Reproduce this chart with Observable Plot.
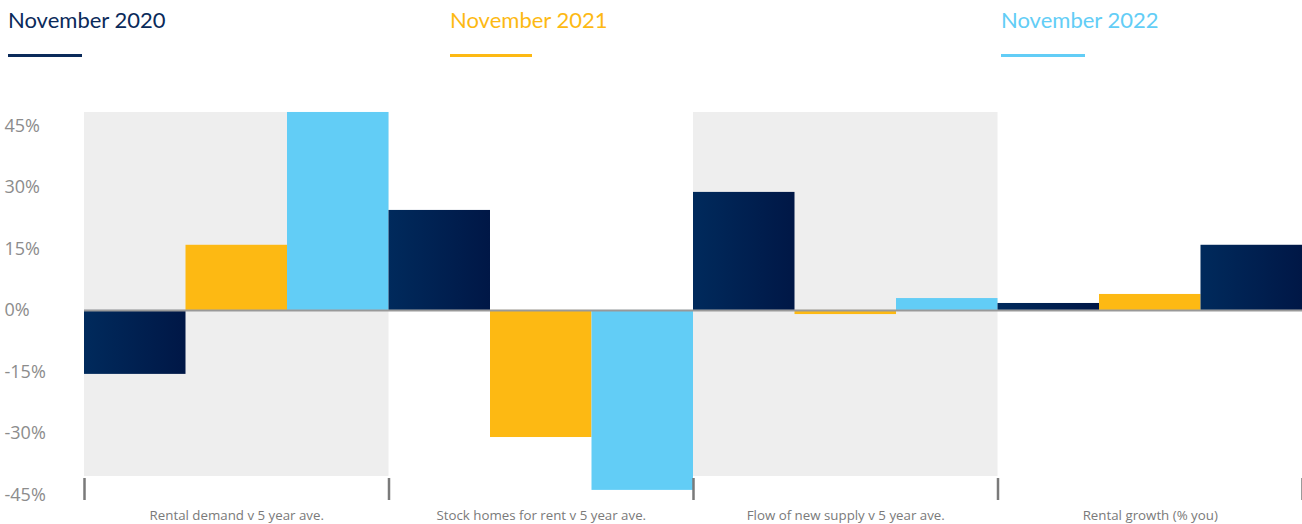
<!DOCTYPE html>
<html>
<head>
<meta charset="utf-8">
<script src="https://cdn.jsdelivr.net/npm/d3@7"></script>
<script src="https://cdn.jsdelivr.net/npm/@observablehq/plot@0.6"></script>
<style>
  html, body { margin: 0; padding: 0; background: #fff; }
  #wrap { width: 1302px; height: 524px; position: relative; overflow: hidden; }
  #legend { position: relative; width: 1302px; height: 100px; font-family: Lato, "Open Sans", sans-serif; }
  .item { position: absolute; top: 6px; font-size: 22px; white-space: nowrap; }
  .item .sw { position: absolute; left: 0; top: 48px; height: 3px; }
  #chart { position: absolute; left: 0; top: 100px; }
</style>
</head>
<body>
<div id="wrap">
  <div id="legend"></div>
  <div id="chart"></div>
</div>
<script>
// ---- data ----
const categories = [
  "Rental demand v 5 year ave.",
  "Stock homes for rent v 5 year ave.",
  "Flow of new supply v 5 year ave.",
  "Rental growth (% you)"
];
const seriesNames = ["November 2020", "November 2021", "November 2022"];
const nov2020 = [-15.6, 24.4, 28.8, 1.7];
const nov2021 = [15.9, -31.0, -1.0, 3.9];
const nov2022 = [48.3, -43.9, 2.9, 15.9];
// colour key of each 2022 bar as drawn in the source (last one appears navy)
const nov2022Colour = ["November 2022", "November 2022", "November 2022", "November 2020"];
const shadedCategories = ["Rental demand v 5 year ave.", "Flow of new supply v 5 year ave."];
const shadeRange = [-40.5, 48.3];
const yTicks = [-45, -30, -15, 0, 15, 30, 45];

const colours = {
  "November 2020": "url(#navyGrad)",
  "November 2021": "#fdb913",
  "November 2022": "#62cdf6"
};
const legendColours = ["#0a2a5a", "#fdb913", "#62cdf6"];
const legendX = [8, 450, 1001];
const legendLineW = [74, 82, 84];

// ---- legend ----
const legend = document.getElementById("legend");
seriesNames.forEach((s, i) => {
  const d = document.createElement("div");
  d.className = "item";
  d.style.left = legendX[i] + "px";
  d.style.color = legendColours[i];
  d.textContent = s;
  const sw = document.createElement("div");
  sw.className = "sw";
  sw.style.width = legendLineW[i] + "px";
  sw.style.background = legendColours[i];
  d.appendChild(sw);
  legend.appendChild(d);
});

// ---- table ----
const seriesValues = [nov2020, nov2021, nov2022];
const bars = [];
categories.forEach((c, ci) => {
  seriesValues.forEach((vals, si) => {
    const key = si === 2 ? nov2022Colour[ci] : seriesNames[si];
    bars.push({ category: c, series: seriesNames[si], value: vals[ci], slot: ci * 3 + si, colour: colours[key] });
  });
});
const bands = categories
  .map((c, ci) => ({ category: c, start: ci * 3, end: ci * 3 + 3 }))
  .filter(d => shadedCategories.includes(d.category));
const labels = categories.map((c, ci) => ({ category: c, mid: ci * 3 + 1.5 }));
const boundaries = d3.range(0, categories.length * 3 + 1, 3);

const plot = Plot.plot({
  width: 1302,
  height: 424,
  marginLeft: 84,
  marginRight: 0,
  marginTop: 5,
  marginBottom: 46,
  style: { fontFamily: "'Open Sans', Lato, sans-serif", background: "transparent" },
  x: { domain: [0, categories.length * 3], axis: null },
  y: { domain: [-41, 50], axis: null },
  marks: [
    Plot.rectY(bands, { x1: "start", x2: "end", y1: shadeRange[0], y2: shadeRange[1], fill: "#eeeeee" }),
    Plot.rectY(bars, { x1: "slot", x2: d => d.slot + 1, y1: 0, y2: "value", fill: "colour" }),
    Plot.ruleY([0], { stroke: "#999", strokeWidth: 2 }),
    Plot.axisX({ ticks: boundaries, tickSize: 22, tickFormat: () => "", label: null, stroke: "#7a7a7a", strokeWidth: 2.5 }),
    Plot.axisY({ ticks: yTicks, tickFormat: d => d + "%", label: null, tickSize: 0, tickPadding: 0, textAnchor: "start", dx: -80, fontSize: 18, fill: "#8c8c8c", color: "#8c8c8c" }),
    Plot.text(labels, { x: "mid", text: "category", frameAnchor: "bottom", dy: 41, fontSize: 13.3, fill: "#7a7a7a" })
  ]
});

// gradient for the navy bars
const svg = d3.select(plot);
const defs = svg.insert("defs", ":first-child");
const g = defs.append("linearGradient").attr("id", "navyGrad").attr("x1", "0").attr("x2", "1").attr("y1", "0").attr("y2", "0");
g.append("stop").attr("offset", "0%").attr("stop-color", "#002a5c");
g.append("stop").attr("offset", "100%").attr("stop-color", "#001746");

document.getElementById("chart").appendChild(plot);
</script>
</body>
</html>
